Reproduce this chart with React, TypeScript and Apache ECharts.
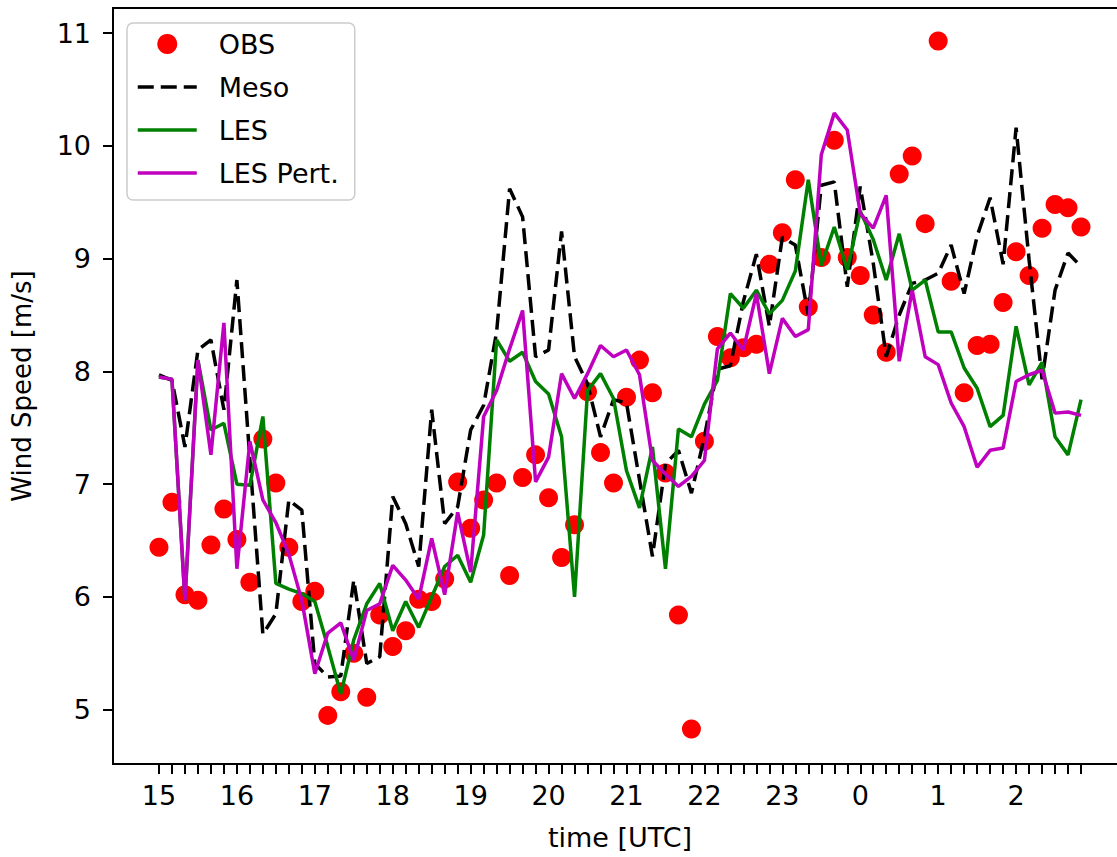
import React, { useEffect, useRef } from "react";
import * as echarts from "echarts";

// Hour tick labels (every 6 samples = 1 h, samples every 10 min starting 15 UTC)
const hourLabels = ["15", "16", "17", "18", "19", "20", "21", "22", "23", "0", "1", "2"];
const yTicks = [5, 6, 7, 8, 9, 10, 11];

const obs = [
  6.44, 6.84, 6.02, 5.97, 6.46, 6.78, 6.51, 6.13, 7.40, 7.01, 6.44, 5.96,
  6.05, 4.95, 5.16, 5.50, 5.11, 5.84, 5.56, 5.70, 5.98, 5.96, 6.16, 7.02,
  6.61, 6.86, 7.01, 6.19, 7.06, 7.26, 6.88, 6.35, 6.64, 7.82, 7.28, 7.01,
  7.77, 8.10, 7.81, 7.10, 5.84, 4.83, 7.38, 8.31, 8.12, 8.21, 8.24, 8.95,
  9.23, 9.70, 8.57, 9.01, 10.05, 9.01, 8.85, 8.50, 8.17, 9.75, 9.91, 9.31,
  10.93, 8.80, 7.81, 8.23, 8.24, 8.61, 9.06, 8.85, 9.27, 9.48, 9.45, 9.28,
];

const meso = [
  7.97, 7.92, 7.33, 8.19, 8.28, 7.66, 8.81, 7.22, 5.67, 5.85, 6.86, 6.77,
  5.41, 5.29, 5.30, 6.15, 5.41, 5.47, 6.89, 6.65, 6.27, 7.66, 6.65, 6.80,
  7.48, 7.70, 8.35, 9.62, 9.37, 8.13, 8.19, 9.24, 8.13, 7.89, 7.42, 7.75,
  7.72, 7.04, 6.36, 7.18, 7.30, 6.92, 7.42, 8.02, 8.05, 8.62, 9.04, 8.40,
  9.19, 9.12, 8.50, 9.65, 9.68, 8.75, 9.64, 8.96, 8.13, 8.50, 8.78, 8.81,
  8.87, 9.12, 8.69, 9.20, 9.54, 8.95, 10.16, 8.99, 7.93, 8.72, 9.05, 8.93,
];

const les = [
  7.95, 7.93, 5.97, 8.10, 7.48, 7.54, 7.00, 6.99, 7.60, 6.12, 6.07, 6.03,
  5.96, 5.56, 5.14, 5.62, 5.94, 6.12, 5.70, 5.96, 5.73, 6.00, 6.27, 6.37,
  6.13, 6.55, 8.28, 8.09, 8.17, 7.91, 7.80, 7.42, 6.00, 7.83, 7.98, 7.76,
  7.12, 6.79, 7.33, 6.25, 7.49, 7.42, 7.71, 7.92, 8.69, 8.56, 8.72, 8.51,
  8.63, 8.89, 9.70, 8.94, 9.28, 8.90, 9.42, 9.17, 8.81, 9.22, 8.72, 8.81,
  8.35, 8.35, 8.03, 7.85, 7.51, 7.61, 8.40, 7.88, 8.08, 7.42, 7.26, 7.75,
];

const lesPert = [
  7.95, 7.93, 5.97, 8.10, 7.26, 8.43, 6.25, 7.38, 6.86, 6.66, 6.38, 5.97,
  5.32, 5.68, 5.77, 5.44, 5.88, 5.94, 6.28, 6.15, 5.98, 6.52, 6.02, 6.75,
  6.22, 7.60, 7.83, 8.20, 8.54, 7.02, 7.24, 7.98, 7.76, 7.98, 8.23, 8.13,
  8.19, 7.97, 7.21, 7.09, 6.98, 7.07, 7.21, 8.20, 8.34, 8.19, 8.69, 7.98,
  8.47, 8.31, 8.37, 9.92, 10.29, 10.14, 9.40, 9.27, 9.56, 8.09, 8.72, 8.13,
  8.06, 7.72, 7.51, 7.15, 7.30, 7.32, 7.91, 7.97, 8.01, 7.63, 7.64, 7.61,
];

const FONT = "DejaVu Sans";

export default function App() {
  const ref = useRef<HTMLDivElement>(null);

  useEffect(() => {
    if (!ref.current) return;
    const chart = echarts.init(ref.current, null, { renderer: "svg" });
    const toPairs = (arr: number[]) => arr.map((v, i) => [i, v]);
    const sampleTicks = obs.map((_, i) => i);
    const hourTicks = hourLabels.map((_, k) => k * 6);
    const hiddenSymbol = { opacity: 0 };

    chart.setOption({
      animation: false,
      backgroundColor: "#ffffff",
      textStyle: { fontFamily: FONT },
      grid: {
        left: 113,
        top: 8,
        width: 1014,
        height: 756,
        containLabel: false,
        outerBoundsMode: "none",
        show: true,
        borderColor: "#000000",
        borderWidth: 2,
        backgroundColor: "transparent",
      },
      legend: {
        orient: "vertical",
        left: 127,
        top: 23,
        itemWidth: 59,
        itemHeight: 20,
        itemGap: 13,
        padding: [6, 16, 12, 9],
        backgroundColor: "rgba(255,255,255,0.8)",
        borderColor: "#cccccc",
        borderWidth: 1.5,
        borderRadius: 6,
        lineStyle: { width: 3.5 },
        textStyle: {
          fontFamily: FONT,
          fontSize: 27,
          color: "#000000",
          lineHeight: 30,
          padding: [0, 0, 0, 17],
        },
        data: [
          { name: "OBS" },
          { name: "Meso", itemStyle: hiddenSymbol },
          { name: "LES", itemStyle: hiddenSymbol },
          { name: "LES Pert.", itemStyle: hiddenSymbol },
        ],
      },
      xAxis: {
        type: "value",
        min: -3.54,
        max: 74.54,
        name: "time [UTC]",
        nameLocation: "middle",
        nameGap: 60,
        nameTextStyle: { fontFamily: FONT, fontSize: 27, color: "#000000" },
        axisLine: { show: true, onZero: false, lineStyle: { color: "#000000", width: 2 } },
        axisTick: {
          show: true,
          inside: false,
          length: 10,
          customValues: sampleTicks,
          lineStyle: { color: "#000000", width: 2 },
        },
        axisLabel: {
          customValues: hourTicks,
          formatter: (v: number) => hourLabels[Math.round(v / 6)] ?? "",
          fontFamily: FONT,
          fontSize: 27,
          color: "#000000",
          margin: 18,
        },
        splitLine: { show: false },
      },
      yAxis: {
        type: "value",
        min: 4.519,
        max: 11.222,
        name: "Wind Speed [m/s]",
        nameLocation: "middle",
        nameGap: 78,
        nameRotate: 90,
        nameTextStyle: { fontFamily: FONT, fontSize: 26, color: "#000000" },
        axisLine: { show: true, onZero: false, lineStyle: { color: "#000000", width: 2 } },
        axisTick: {
          show: true,
          inside: false,
          length: 10,
          customValues: yTicks,
          lineStyle: { color: "#000000", width: 2 },
        },
        axisLabel: {
          customValues: yTicks,
          fontFamily: FONT,
          fontSize: 27,
          color: "#000000",
          margin: 22,
        },
        splitLine: { show: false },
      },
      series: [
        {
          name: "OBS",
          type: "scatter",
          data: toPairs(obs),
          symbol: "circle",
          symbolSize: 19,
          itemStyle: { color: "#ff0000", opacity: 1 },
          z: 2,
        },
        {
          name: "Meso",
          type: "line",
          data: toPairs(meso),
          symbol: "none",
          showSymbol: false,
          lineStyle: { color: "#000000", width: 3.5, type: [16, 7] },
          itemStyle: { color: "#000000" },
          z: 3,
        },
        {
          name: "LES",
          type: "line",
          data: toPairs(les),
          symbol: "none",
          showSymbol: false,
          lineStyle: { color: "#008000", width: 3.5 },
          itemStyle: { color: "#008000" },
          z: 4,
        },
        {
          name: "LES Pert.",
          type: "line",
          data: toPairs(lesPert),
          symbol: "none",
          showSymbol: false,
          lineStyle: { color: "#bf00bf", width: 3.5 },
          itemStyle: { color: "#bf00bf" },
          z: 5,
        },
      ],
    });

    return () => chart.dispose();
  }, []);

  return (
    <div
      style={{
        position: "fixed",
        left: 0,
        top: 0,
        width: 1117,
        height: 857,
        overflow: "hidden",
        background: "#ffffff",
      }}
    >
      <div ref={ref} style={{ width: 1117, height: 857 }} />
    </div>
  );
}
